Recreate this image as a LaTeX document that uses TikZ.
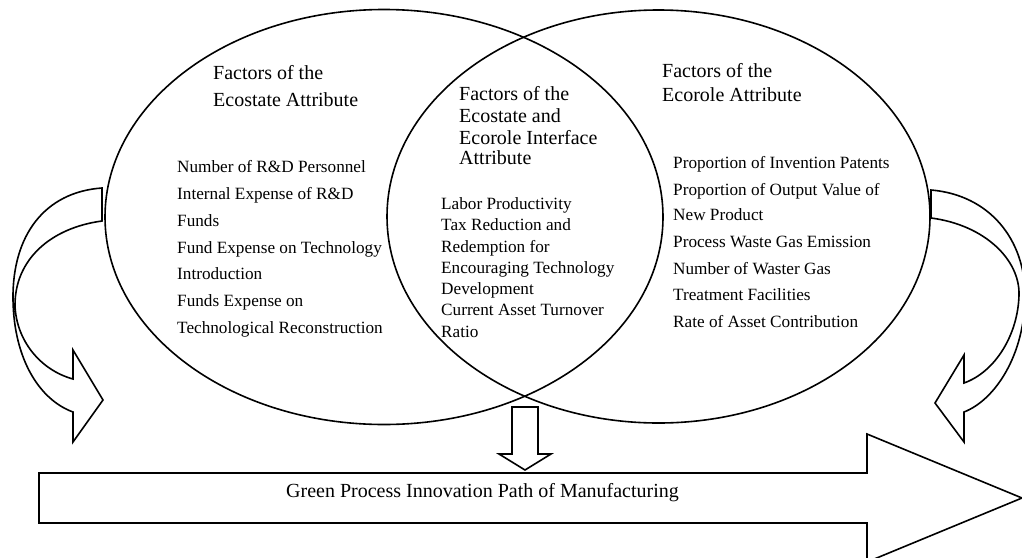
\documentclass[tikz,border=0pt]{standalone}
\usepackage{fontspec}
\setmainfont{Liberation Serif}
\usetikzlibrary{shapes.geometric}
\begin{document}
\begin{tikzpicture}[x=1pt,y=-1pt,
  outline/.style={draw=black,line width=1.6pt,line join=miter,fill=white},
  venn/.style={ellipse,draw=black,line width=1.6pt,inner sep=0pt},
  heading/.style={anchor=base west,inner sep=0pt,font=\fontsize{20}{24}\selectfont},
  item/.style={anchor=base west,inner sep=0pt,font=\fontsize{17.2}{20}\selectfont}]
\useasboundingbox (0,0) rectangle (1022,557);

% curved block arrow on the left
\draw[outline] (102,221) -- (102,188)
  .. controls (45,192) and (12,235) .. (13,300)
  .. controls (14,360) and (40,400) .. (73,412)
  -- (73,442) -- (103,400) -- (73,350) -- (73,379)
  .. controls (40,370) and (16,340) .. (15,305)
  .. controls (15,260) and (50,228) .. (102,221) -- cycle;

% curved block arrow on the right
\draw[outline] (931,218) -- (931,190)
  .. controls (990,195) and (1025,240) .. (1025,295)
  .. controls (1025,355) and (995,400) .. (964,412)
  -- (964,442) -- (935,403) -- (964,355) -- (964,383)
  .. controls (995,372) and (1018,335) .. (1019,295)
  .. controls (1020,260) and (985,225) .. (931,218) -- cycle;

% the two attribute sets
\node[venn, minimum width=558pt, minimum height=415pt] (ecostate) at (384,217) {};
\node[venn, minimum width=543pt, minimum height=413pt] (ecorole) at (658.5,216.5) {};

% arrow down from the interface
\draw[outline] (512,407) -- (538,407) -- (538,454) -- (551,454)
  -- (525,470) -- (499,454) -- (512,454) -- cycle;

% path arrow
\draw[outline] (39,473) -- (867,473) -- (867,434) -- (1022,498)
  -- (867,562) -- (867,523) -- (39,523) -- cycle;
\node[heading, anchor=base] (pathlabel) at (482.5,497) {Green Process Innovation Path of Manufacturing};

% headings
\node[heading] (lt1) at (213,79) {Factors of the};
\node[heading] (lt2) at (213,106) {Ecostate Attribute};
\node[heading] (ct1) at (459,100) {Factors of the};
\node[heading] (ct2) at (459,122) {Ecostate and};
\node[heading] (ct3) at (459,144) {Ecorole Interface};
\node[heading] (ct4) at (459,164) {Attribute};
\node[heading] (rt1) at (662,77) {Factors of the};
\node[heading] (rt2) at (662,101) {Ecorole Attribute};

% factor lists
\foreach \y/\t in {172/Number of R\&D Personnel, 199/Internal Expense of R\&D,
  226/Funds, 253/Fund Expense on Technology, 279/Introduction,
  306/Funds Expense on, 333/Technological Reconstruction}
  \node[item] (ls\y) at (177,\y) {\t};
\foreach \y/\t in {209/Labor Productivity, 230/Tax Reduction and,
  252/Redemption for, 273/Encouraging Technology, 294/Development,
  315/Current Asset Turnover, 337/Ratio}
  \node[item] (cs\y) at (441,\y) {\t};
\foreach \y/\t in {168/Proportion of Invention Patents,
  195/Proportion of Output Value of, 220/New Product,
  247/Process Waste Gas Emission, 274/Number of Waster Gas,
  300/Treatment Facilities, 327/Rate of Asset Contribution}
  \node[item] (rs\y) at (673,\y) {\t};
\end{tikzpicture}
\end{document}
